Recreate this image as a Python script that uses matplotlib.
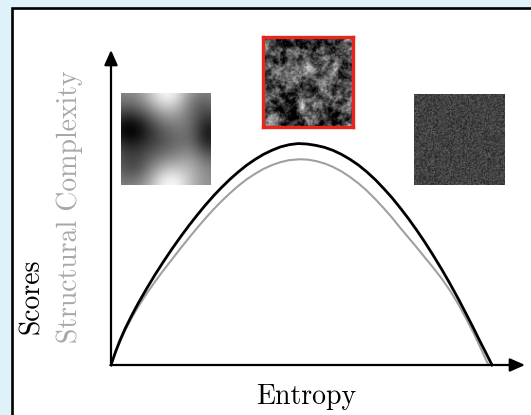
import numpy as np
import matplotlib
matplotlib.use("Agg")
import matplotlib.pyplot as plt
from matplotlib.patches import Rectangle

# ---- data ----
entropy = [0.0, 0.012, 0.024, 0.037, 0.054, 0.071, 0.093, 0.115, 0.137, 0.160, 0.183, 0.205,
           0.226, 0.247, 0.270, 0.290, 0.312, 0.333, 0.356, 0.378, 0.400, 0.423, 0.445, 0.468,
           0.491, 0.514, 0.537, 0.560, 0.583, 0.605, 0.627, 0.650, 0.672, 0.694, 0.715, 0.737,
           0.759, 0.780, 0.802, 0.824, 0.845, 0.868, 0.890, 0.912, 0.934, 0.951, 0.967, 0.984, 1.0]
scores = [0.0, 0.060, 0.113, 0.164, 0.223, 0.278, 0.344, 0.407, 0.466, 0.525, 0.581, 0.632,
          0.678, 0.722, 0.767, 0.803, 0.840, 0.872, 0.904, 0.930, 0.953, 0.972, 0.987, 0.997,
          1.002, 1.000, 0.994, 0.985, 0.971, 0.953, 0.931, 0.904, 0.873, 0.838, 0.800, 0.758,
          0.711, 0.664, 0.611, 0.555, 0.498, 0.433, 0.367, 0.298, 0.225, 0.168, 0.112, 0.055, 0.0]
entropy_sc = [0.0, 0.012, 0.024, 0.037, 0.054, 0.071, 0.093, 0.115, 0.137, 0.160, 0.183, 0.205,
              0.226, 0.247, 0.270, 0.290, 0.312, 0.333, 0.356, 0.378, 0.400, 0.423, 0.445, 0.468,
              0.496, 0.518, 0.540, 0.562, 0.583, 0.605, 0.627, 0.650, 0.672, 0.694, 0.715, 0.737,
              0.759, 0.780, 0.802, 0.824, 0.845, 0.868, 0.890, 0.912, 0.934, 0.951, 0.967, 0.984, 0.991]
struct_complexity = [0.0, 0.058, 0.108, 0.156, 0.212, 0.263, 0.322, 0.376, 0.427, 0.478, 0.529, 0.576,
                     0.620, 0.662, 0.706, 0.741, 0.777, 0.809, 0.840, 0.865, 0.887, 0.905, 0.918, 0.927,
                     0.931, 0.929, 0.922, 0.911, 0.896, 0.876, 0.851, 0.821, 0.788, 0.750, 0.711, 0.668,
                     0.621, 0.578, 0.533, 0.486, 0.442, 0.391, 0.336, 0.274, 0.204, 0.147, 0.089, 0.024, 0.0]
x_label = "Entropy"
y_label_black = "Scores"
y_label_gray = "Structural Complexity"

W, H = 531, 415
fig = plt.figure(figsize=(W / 100, H / 100), dpi=100)
fig.patch.set_facecolor("#dff2fa")

def fx(px):
    return px / W

def fy(py):
    return 1 - py / H

# white framed panel (cropped at right and bottom)
fig.add_artist(Rectangle((fx(12), -0.1), 1.2, fy(8) + 0.1, transform=fig.transFigure,
                         facecolor="white", edgecolor="black", lw=1.9, zorder=0))

# main axes
x0, x1, y0, y1 = 111, 525, 365, 50
ax = fig.add_axes([fx(x0), fy(y0), fx(x1) - fx(x0), fy(y1) - fy(y0)])
ax.set_facecolor("none")
ax.set_xlim(0, (x1 - x0) / 381)
ax.set_ylim(0, (y0 - y1) / 221)
for s in ax.spines.values():
    s.set_visible(False)
ax.set_xticks([])
ax.set_yticks([])

ax.plot(entropy_sc, struct_complexity, color="#a0a0a0", lw=1.5, clip_on=False, zorder=2,
        solid_joinstyle="round")
ax.plot(entropy, scores, color="black", lw=2.0, clip_on=False, zorder=3, solid_joinstyle="round")

ap = dict(arrowstyle="-|>,head_length=0.45,head_width=0.2", lw=1.6, color="black",
          mutation_scale=20, shrinkA=0, shrinkB=0)
ax.annotate("", xy=(1, 0), xytext=(0, 0), xycoords="axes fraction", textcoords="axes fraction",
            arrowprops=ap)
ax.annotate("", xy=(0, 1), xytext=(0, 0), xycoords="axes fraction", textcoords="axes fraction",
            arrowprops=ap)

font = "cmr10"
fig.text(fx(306), fy(397), x_label, ha="center", va="center", fontsize=20, family=font)
fig.text(fx(32), fy(296), y_label_black, ha="center", va="center", rotation=90, fontsize=20,
         family=font, color="black")
fig.text(fx(70), fy(207), y_label_gray, ha="center", va="center", rotation=90, fontsize=20,
         family=font, color="#a8a8a8")

# ---- decorative textures (deterministic hash noise) ----
N = 96
ii, jj = np.meshgrid(np.arange(N), np.arange(N), indexing="ij")

def hash_noise(seed):
    v = np.sin(ii * 12.9898 + jj * 78.233 + seed * 37.719) * 43758.5453
    return v - np.floor(v)

def filtered(seed, power):
    n = hash_noise(seed) - 0.5
    F = np.fft.fft2(n)
    k = np.sqrt(np.fft.fftfreq(N)[:, None] ** 2 + np.fft.fftfreq(N)[None, :] ** 2)
    k[0, 0] = 1.0
    F = F / k ** power
    F[0, 0] = 0
    out = np.real(np.fft.ifft2(F))
    return (out - out.mean()) / out.std()

# smooth low-entropy texture
u = np.linspace(0, 1, N)
X, Y = np.meshgrid(u, u)
def blob(cx, cy, sx, sy, a):
    return a * np.exp(-((X - cx) ** 2 / (2 * sx ** 2) + (Y - cy) ** 2 / (2 * sy ** 2)))
smooth = (0.55 + blob(0.52, -0.02, 0.18, 0.18, 0.42) + blob(0.55, 1.02, 0.18, 0.18, 0.42)
          + blob(0.08, 0.4, 0.22, 0.18, -0.5) + blob(1.0, 0.45, 0.14, 0.2, -0.42)
          + blob(0.12, 0.8, 0.17, 0.14, -0.2) + blob(0.5, 0.55, 0.22, 0.17, -0.14)
          + blob(0.82, 0.12, 0.14, 0.14, -0.12) + blob(0.8, 0.75, 0.14, 0.14, 0.08))
smooth = np.clip(smooth, 0, 1)

# fractal mid texture
frac = filtered(3, 1.3)
frac = np.clip(0.29 + 0.17 * frac, 0, 1)

# white noise texture
wn = np.clip(0.26 + 0.07 * (hash_noise(7) - 0.5) * 3.4, 0, 1)

def put_image(img, left, top, right, bottom, border=None):
    iax = fig.add_axes([fx(left), fy(bottom), fx(right) - fx(left), fy(top) - fy(bottom)])
    iax.imshow(img, cmap="gray", vmin=0, vmax=1, aspect="auto", interpolation="bilinear")
    iax.set_xticks([])
    iax.set_yticks([])
    for s in iax.spines.values():
        if border:
            s.set_color(border)
            s.set_linewidth(2.4)
        else:
            s.set_visible(False)

put_image(smooth, 121, 93, 211, 185)
put_image(frac, 263, 37, 353, 127, border="#e8261b")
put_image(wn, 414, 94, 505, 185)

fig.savefig("out.png", dpi=100, facecolor=fig.get_facecolor())
